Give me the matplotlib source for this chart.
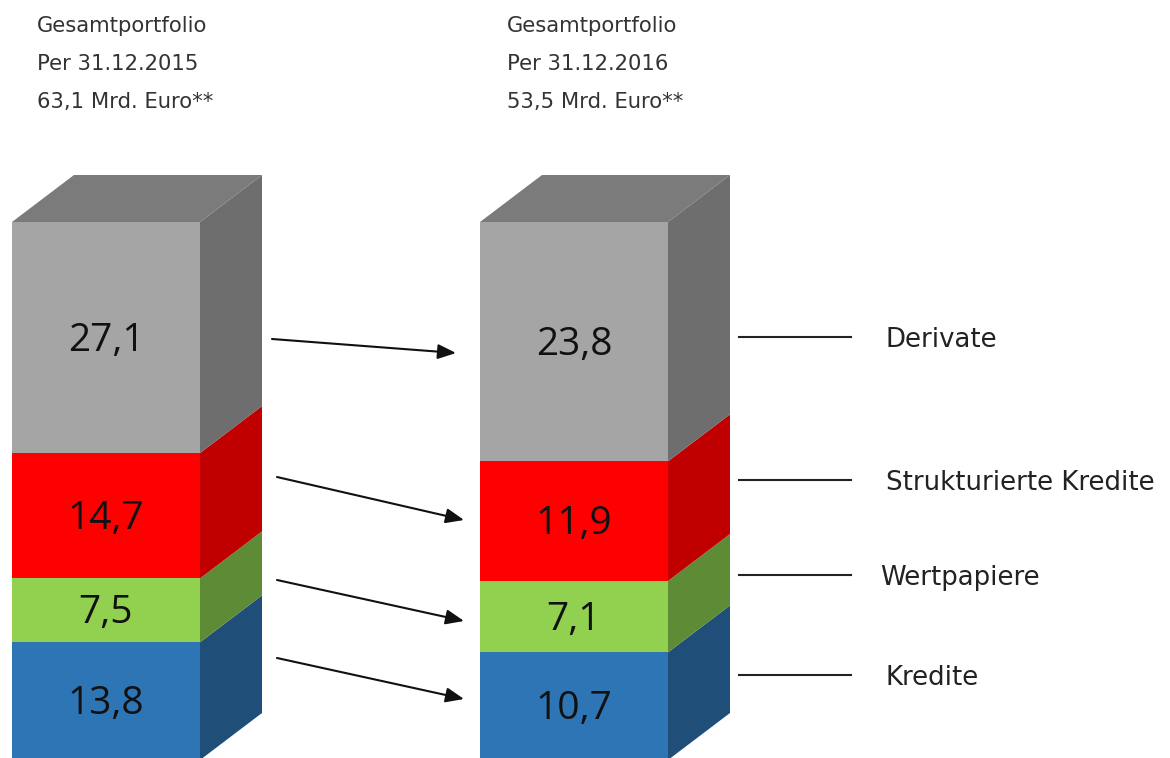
import matplotlib.pyplot as plt
from matplotlib.patches import Polygon

# --- Data ---
CATEGORIES = ["Kredite", "Wertpapiere", "Strukturierte Kredite", "Derivate"]
VALUES_2015 = [13.8, 7.5, 14.7, 27.1]
VALUES_2016 = [10.7, 7.1, 11.9, 23.8]
HEADERS = [
    ["Gesamtportfolio", "Per 31.12.2015", "63,1 Mrd. Euro**"],
    ["Gesamtportfolio", "Per 31.12.2016", "53,5 Mrd. Euro**"],
]

# front / side colours per category (same order as CATEGORIES)
FRONT_COLORS = ["#2e75b6", "#92d050", "#ff0000", "#a5a5a5"]
SIDE_COLORS = ["#1f4e79", "#5e8b36", "#c00000", "#6e6e6e"]
TOP_COLOR = "#7b7b7b"

# --- Layout (pixel space) ---
W, H = 1170, 758
BAR_TOP, BAR_BOTTOM = 222, 760
BAR_LEFT = [12, 480]
BAR_WIDTH = 188
DX, DY = 62, 47
HEADER_X = [37, 507]

# arrows between the bars: (x0, y0, x1, y1)
ARROWS = [(272, 339, 456, 353), (277, 477, 464, 520),
          (277, 580, 464, 621), (277, 658, 464, 699)]
# legend lines, bottom-to-top like CATEGORIES
LEGEND_Y = [675, 575, 480, 337]
LEGEND_TEXT_X = [886, 880, 886, 886]

fig = plt.figure(figsize=(W / 100, H / 100), dpi=100)
ax = fig.add_axes([0, 0, 1, 1])
ax.set_xlim(0, W)
ax.set_ylim(H, 0)
ax.set_axis_off()


def draw_bar(left, values):
    total = sum(values)
    scale = (BAR_BOTTOM - BAR_TOP) / total
    right = left + BAR_WIDTH
    y_bottom = BAR_BOTTOM
    for val, fc, sc in zip(values, FRONT_COLORS, SIDE_COLORS):
        h = val * scale
        y_top = y_bottom - h
        # front face
        ax.bar(left + BAR_WIDTH / 2, h, bottom=y_top, width=BAR_WIDTH,
               color=fc, edgecolor="none", zorder=2)
        # side face
        side = Polygon([(right, y_bottom), (right + DX, y_bottom - DY),
                        (right + DX, y_top - DY), (right, y_top)],
                       closed=True, facecolor=sc, edgecolor="none", zorder=2)
        ax.add_patch(side)
        label = f"{val:.1f}".replace(".", ",")
        ax.text(left + BAR_WIDTH / 2, y_top + h / 2 + 3, label, ha="center",
                va="center", fontsize=28, family="Open Sans", color="#111111", zorder=3)
        y_bottom = y_top
    top = Polygon([(left, BAR_TOP), (left + DX, BAR_TOP - DY),
                   (right + DX, BAR_TOP - DY), (right, BAR_TOP)],
                  closed=True, facecolor=TOP_COLOR, edgecolor="none", zorder=2)
    ax.add_patch(top)


draw_bar(BAR_LEFT[0], VALUES_2015)
draw_bar(BAR_LEFT[1], VALUES_2016)

# headers
for hx, lines in zip(HEADER_X, HEADERS):
    for i, line in enumerate(lines):
        ax.text(hx, 32 + i * 38, line, ha="left", va="baseline",
                fontsize=15.2, family="DejaVu Sans", color="#333333")

# arrows
for x0, y0, x1, y1 in ARROWS:
    ax.annotate("", xy=(x1, y1), xytext=(x0, y0),
                arrowprops=dict(arrowstyle="-|>,head_length=1.1,head_width=0.45",
                                color="#111111", lw=1.5, shrinkA=0, shrinkB=0))

# legend lines and labels
for name, ly, tx in zip(CATEGORIES, LEGEND_Y, LEGEND_TEXT_X):
    ax.plot([739, 851], [ly, ly], color="#222222", lw=1.5)
    ax.text(tx, ly + 10, name, ha="left", va="baseline",
            fontsize=18.7, family="DejaVu Sans", color="#222222")

fig.savefig("out.png", dpi=100)
